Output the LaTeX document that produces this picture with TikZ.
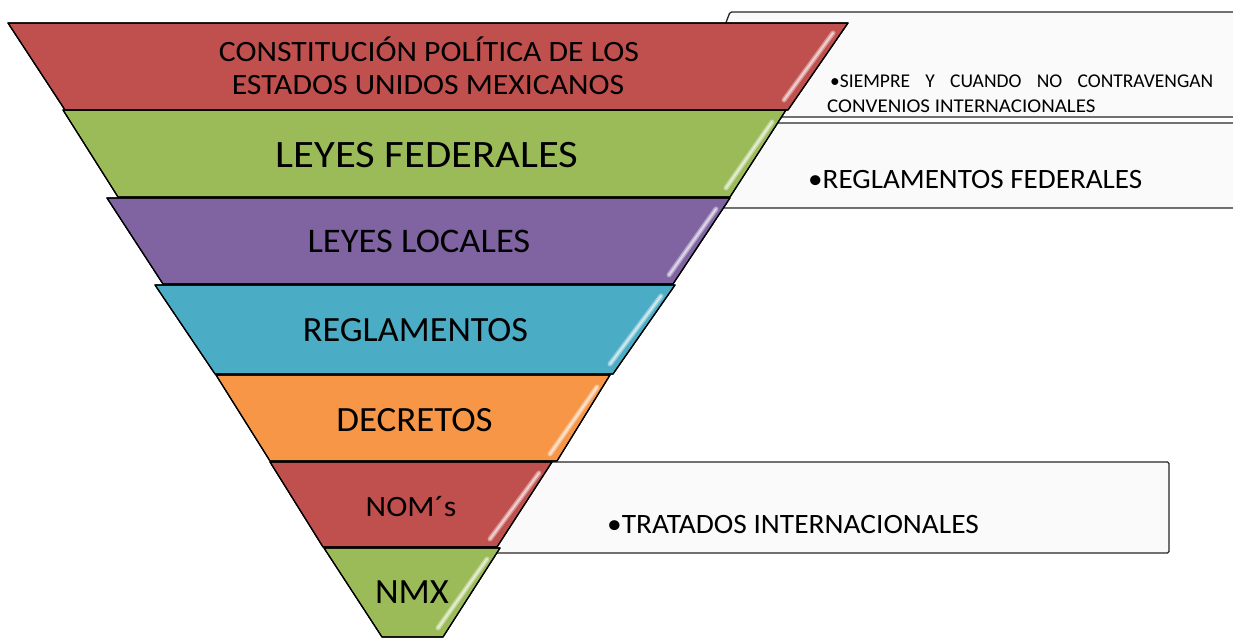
\documentclass[tikz,border=0pt]{standalone}
\usepackage{graphicx}
\usepackage{fontspec}
\setmainfont{Carlito}
\definecolor{cRed}{HTML}{C0504D}
\definecolor{cGreen}{HTML}{9BBB59}
\definecolor{cPurple}{HTML}{8064A2}
\definecolor{cCyan}{HTML}{4BACC6}
\definecolor{cOrange}{HTML}{F79646}
\definecolor{boxfill}{HTML}{FAFAFA}
\newcommand\hs[2]{\scalebox{#1}[1]{#2}}
\begin{document}
\begin{tikzpicture}[x=1pt,y=-1pt,
  layer/.style={draw=black, line width=1.2pt, line join=round},
  sidebox/.style={draw=black!85, line width=1.3pt, fill=boxfill, rounded corners=1.5pt},
  glossa/.style={white, line width=5pt, line cap=round, opacity=0.4},
  glossb/.style={white, line width=2pt, line cap=round, opacity=0.55},
  lbl/.style={anchor=base, text=black, inner sep=0pt},
  side/.style={anchor=base west, text=black, inner sep=0pt}]
\useasboundingbox (0,0) rectangle (1233,637);

% side boxes (behind the funnel)
\draw[sidebox] (730,12) -- (1245,12) -- (1245,117) -- (690,117) -- cycle;
\draw[sidebox] (720,123) -- (1245,123) -- (1245,208) -- (690,208) -- cycle;
\draw[sidebox] (540,462) -- (1169,462) -- (1169,553) -- (470,553) -- cycle;

% funnel layers
\fill[layer, fill=cRed]    (8,23)   -- (848,23)  -- (788,110) -- (65,110)  -- cycle;
\fill[layer, fill=cGreen]  (63,110) -- (786,110) -- (730,197) -- (118,197) -- cycle;
\fill[layer, fill=cPurple] (107,198)-- (730,198) -- (673,284) -- (163,284) -- cycle;
\fill[layer, fill=cCyan]   (155,285)-- (675,285) -- (613,374) -- (215,374) -- cycle;
\fill[layer, fill=cOrange] (216,375)-- (610,375) -- (557,461) -- (270,461) -- cycle;
\fill[layer, fill=cRed]    (270,462)-- (552,462) -- (497,547) -- (323,547) -- cycle;
\fill[layer, fill=cGreen]  (324,548)-- (500,548) -- (443,637) -- (382,637) -- cycle;

\draw[layer] (8,23)   -- (848,23)  -- (788,110) -- (65,110)  -- cycle;
\draw[layer] (63,110) -- (786,110) -- (730,197) -- (118,197) -- cycle;
\draw[layer] (107,198)-- (730,198) -- (673,284) -- (163,284) -- cycle;
\draw[layer] (155,285)-- (675,285) -- (613,374) -- (215,374) -- cycle;
\draw[layer] (216,375)-- (610,375) -- (557,461) -- (270,461) -- cycle;
\draw[layer] (270,462)-- (552,462) -- (497,547) -- (323,547) -- cycle;
\draw[layer] (324,548)-- (500,548) -- (443,637) -- (382,637) -- cycle;

% gloss streaks
\foreach \a/\b in {{(833,33)}/{(784,100)}, {(772,122)}/{(726,188)}, {(716,209)}/{(669,275)},
                   {(661,296)}/{(610,364)}, {(597,387)}/{(550,454)}, {(539,473)}/{(490,539)},
                   {(487,559)}/{(438,628)}}{
  \draw[glossa] \a -- \b;
  \draw[glossb] \a -- \b;
}

% funnel labels
\node[lbl, font=\fontsize{29.5}{33}\selectfont] (t1a) at (429,61) {\hs{1.075}{CONSTITUCIÓN POLÍTICA DE LOS}};
\node[lbl, font=\fontsize{29.5}{33}\selectfont] (t1b) at (428,94) {\hs{1.075}{ESTADOS UNIDOS MEXICANOS}};
\node[lbl, font=\fontsize{38.8}{44}\selectfont] (t2) at (427,167) {\hs{1.1}{LEYES FEDERALES}};
\node[lbl, font=\fontsize{34.5}{40}\selectfont] (t3) at (419,252) {\hs{1.06}{LEYES LOCALES}};
\node[lbl, font=\fontsize{35.5}{40}\selectfont] (t4) at (415.5,341) {\hs{1.02}{REGLAMENTOS}};
\node[lbl, font=\fontsize{35.5}{40}\selectfont] (t5) at (414.5,431) {\hs{1.04}{DECRETOS}};
\node[lbl, font=\fontsize{29.5}{33}\selectfont] (t6) at (411,516) {\hs{1.08}{NOM´s}};
\node[lbl, font=\fontsize{35.5}{40}\selectfont] (t7) at (412,603) {\hs{1.03}{NMX}};

% side texts
\node[side, font=\fontsize{19.5}{22}\selectfont] (s1a) at (830,87) {\makebox[383pt][s]{•SIEMPRE Y CUANDO NO CONTRAVENGAN}};
\node[side, font=\fontsize{19.5}{22}\selectfont] (s1b) at (827,112) {\hs{1.075}{CONVENIOS INTERNACIONALES}};
\node[side, font=\fontsize{28}{32}\selectfont] (s2) at (808,188) {\hs{1.04}{•REGLAMENTOS FEDERALES}};
\node[side, font=\fontsize{28}{32}\selectfont] (s3) at (607,533) {\hs{1.05}{•TRATADOS INTERNACIONALES}};
\end{tikzpicture}
\end{document}
